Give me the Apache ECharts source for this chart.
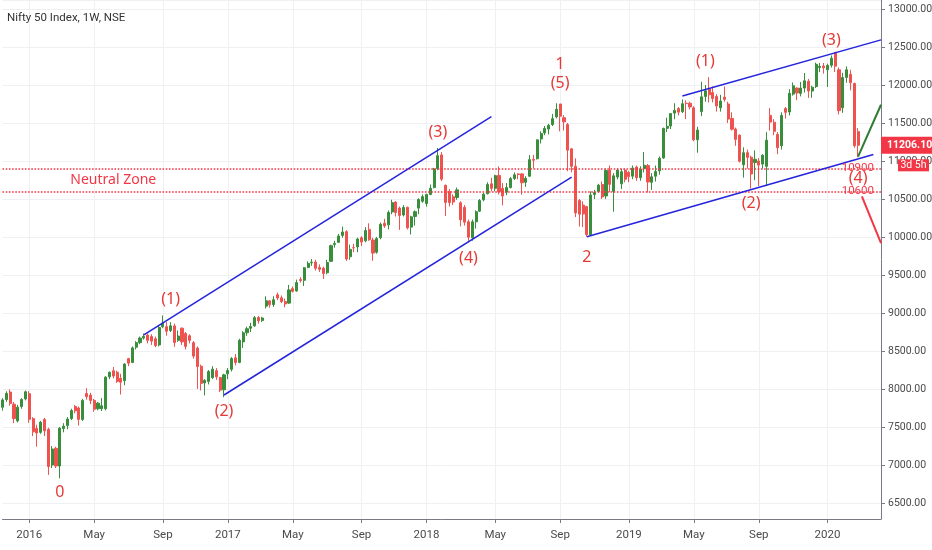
<!DOCTYPE html>
<html><head><meta charset="utf-8">
<script src="https://cdn.jsdelivr.net/npm/echarts@6/dist/echarts.min.js"></script>
<style>html,body{margin:0;padding:0;background:#fff}#c{width:932px;height:550px}</style>
</head><body><div id="c"></div>
<script>
// ---------- data ----------
const titleText = 'Nifty 50 Index, 1W, NSE';
const firstWeek = [2015, 10, 16];   // Monday 16 Nov 2015 (UTC, month 0-based)
const weekCount = 231;              // weeks on the axis (incl. empty weeks on the right)
const labelMonths = [0, 4, 8];      // Jan (year), May, Sep
const monthNames = ['Jan','Feb','Mar','Apr','May','Jun','Jul','Aug','Sep','Oct','Nov','Dec'];

// weekly candles: [open, close, low, high]
const ohlc = [
[7760,7856,7715,7880],[7860,7942,7830,7970],[7960,7810,7780,7995],[7800,7610,7551,7830],
[7580,7761,7560,7790],[7770,7861,7740,7880],[7870,7963,7850,7980],
// 2016
[7938,7601,7555,7972],[7610,7437,7380,7630],[7480,7422,7241,7530],[7430,7563,7410,7580],
[7600,7450,7380,7620],[7470,6980,6870,7490],[7000,7210,6960,7250],[7220,6987,6960,7240],
[6987,7485,6825,7500],[7480,7511,7430,7550],[7520,7604,7470,7630],[7610,7716,7590,7740],
[7770,7713,7680,7790],[7750,7600,7520,7770],[7600,7850,7580,7870],[7940,7899,7860,8010],
[7920,7849,7800,7950],[7850,7733,7700,7870],[7740,7814,7720,7830],[7740,7780,7710,7880],
[7740,8156,7720,8170],[8160,8220,8130,8230],[8240,8170,8140,8290],[8220,8100,8080,8240],
[8140,8089,7927,8200],[8110,8328,8050,8340],[8400,8340,8300,8410],[8350,8541,8340,8560],
[8550,8610,8520,8630],[8610,8670,8590,8690],[8670,8690,8650,8730],[8710,8640,8600,8730],
[8690,8630,8580,8720],[8660,8572,8550,8690],[8580,8809,8560,8840],[8820,8866,8800,8968],
[8820,8760,8700,8880],[8770,8831,8750,8880],[8830,8611,8555,8860],[8640,8697,8620,8770],
[8800,8620,8580,8810],[8730,8560,8520,8750],[8700,8640,8600,8720],[8610,8433,8400,8630],
[8540,8296,8002,8560],[8300,8074,7980,8320],[8080,8114,7916,8130],[8100,8230,8060,8250],
[8150,8261,8130,8300],[8240,8160,8120,8275],[8150,7985,7960,8160],[7990,8186,7893,8200],
// 2017
[8200,8243,8130,8275],[8260,8400,8230,8420],[8410,8349,8310,8460],[8350,8641,8340,8660],
[8620,8740,8540,8760],[8740,8793,8700,8820],[8800,8821,8750,8870],[8830,8939,8820,8960],
[8940,8897,8860,8960],[8900,8934,8880,8950],[9090,9160,9060,9220],[9160,9108,9070,9170],
[9110,9174,9080,9220],[9240,9198,9170,9270],[9200,9150,9130,9230],[9150,9119,9075,9190],
[9130,9304,9120,9370],[9320,9285,9270,9350],[9290,9400,9280,9440],[9440,9427,9400,9470],
[9430,9595,9355,9605],[9600,9653,9590,9680],[9660,9668,9620,9710],[9670,9588,9560,9700],
[9600,9575,9540,9640],[9590,9520,9448,9610],[9530,9665,9510,9700],[9680,9886,9670,9900],
[9900,9915,9860,9950],[9930,10014,9920,10040],[10020,10066,9990,10137],[10070,9710,9685,10090],
[9740,9837,9700,9900],[9860,9857,9800,9910],[9870,9974,9800,9990],[9990,9934,9880,10010],
[9950,10085,9930,10130],[10100,9964,9950,10180],[9960,9788,9687,9990],[9800,9979,9780,10000],
[9990,10167,9970,10190],[10180,10146,10120,10240],[10160,10323,10100,10350],[10330,10452,10300,10490],
[10460,10322,10270,10470],[10380,10283,10094,10400],[10290,10389,10270,10420],[10390,10121,10100,10400],
[10130,10265,10033,10280],[10270,10333,10150,10350],[10380,10493,10300,10510],[10470,10531,10450,10560],
// 2018
[10440,10559,10400,10570],[10560,10640,10550,10690],[10650,10894,10640,10910],[10900,11070,10880,11171],
[11080,10761,10736,11117],[10680,10455,10276,10690],[10600,10452,10400,10630],[10530,10460,10420,10560],
[10520,10620,10490,10650],[10450,10227,10140,10470],[10390,10195,10150,10420],[10200,9998,9951,10230],
[9990,10200,9951,10230],[10200,10332,10110,10350],[10340,10481,10330,10500],[10490,10564,10470,10580],
[10570,10692,10560,10720],[10700,10640,10600,10780],[10640,10807,10600,10820],[10810,10596,10560,10929],
[10640,10540,10417,10710],[10590,10650,10550,10710],[10650,10768,10640,10790],[10770,10818,10750,10850],
[10830,10822,10760,10840],[10830,10714,10557,10840],[10720,10772,10660,10800],[10800,11018,10790,11078],
[11020,11010,10900,11080],[11030,11278,11020,11283],[11290,11361,11230,11390],[11370,11429,11340,11460],
[11420,11470,11350,11490],[11480,11557,11460,11620],[11580,11680,11560,11760],[11750,11589,11390,11750],
[11570,11515,11400,11603],[11480,11143,10866,11500],[11160,10930,10850,11170],[10930,10316,10262,11035],
[10480,10300,10138,10500],[10420,10303,10130,10470],[10400,10030,10004,10410],[10030,10553,10020,10600],
[10560,10585,10500,10620],[10600,10682,10580,10700],[10690,10526,10500,10730],[10540,10876,10500,10900],
[10880,10693,10590,10940],[10600,10805,10333,10840],[10790,10880,10760,10900],[10700,10859,10630,10900],
[10880,10760,10720,10900],
// 2019
[10850,10795,10720,10870],[10800,10907,10760,10940],[10920,10780,10740,10940],[10780,10894,10740,10930],
[10900,10944,10850,11118],[10940,10724,10585,10960],[10720,10792,10620,10840],[10800,10863,10730,10940],
[10870,11035,10820,11060],[11040,11427,11030,11440],[11430,11457,11380,11570],[11460,11624,11420,11630],
[11630,11666,11550,11760],[11690,11643,11600,11710],[11650,11753,11630,11810],[11760,11755,11550,11800],
[11760,11712,11680,11780],[11700,11279,11260,11720],[11280,11407,11108,11450],[11650,11844,11590,12041],
[11850,11923,11780,12000],[11950,11871,11770,12103],[11900,11823,11770,11980],[11850,11724,11650,11880],
[11700,11789,11650,11870],[11840,11811,11780,11981],[11750,11552,11500,11780],[11560,11419,11400,11640],
[11420,11284,11200,11440],[11340,10997,10980,11350],[10950,11109,10782,11180],[11110,11048,10900,11150],
[11050,10829,10637,11070],[10980,11023,10746,11140],[11000,10946,10670,11040],[10960,11076,10900,11090],
[10930,11274,10670,11380],[11600,11512,11400,11695],[11510,11390,11340,11550],[11350,11175,11090,11380],
[11200,11600,11150,11640],[11690,11640,11560,11710],[11645,11891,11600,11945],[11880,11990,11860,12034],
[11960,11895,11800,11970],[11890,11960,11850,12040],[11960,12056,11900,12158],[12050,11921,11830,12080],
[11920,11971,11832,11990],[11980,12272,11960,12294],[12230,12246,12170,12290],[12250,12226,12150,12290],
// 2020
[12200,12257,11974,12280],[12260,12352,12230,12389],[12430,12248,12170,12430],[12200,11662,11614,12230],
[11700,12098,11633,12160],[12100,12200,12030,12246],[12140,12030,11930,12200],[12020,11201,11175,12030],
[11387,11206.10,11050,11433]
];
const lastPrice = 11206.10;
const countdownText = '3d 5h';

// horizontal levels (neutral zone bounds)
const zoneLevels = [10900, 10600];
const zoneLabel = [29, 10750, 'Neutral Zone'];       // [week index, price, text]

// trend lines: [fromWeek, fromPrice, toWeek, toPrice]
const channelLines = [
  [37, 8711, 128, 11584],
  [58, 7921, 149, 10789],
  [178, 11855, 230, 12594],
  [153, 10004, 228, 11085]
];
const projectionUp = [224, 11057, 230, 11740];
const projectionDown = [225, 10536, 230, 9920];

// Elliott wave labels: [week index, price, text]
const waveLabels = [
  [15, 6641, '0'], [44, 9184, '(1)'], [58, 7710, '(2)'], [114, 11372, '(3)'], [122, 9720, '(4)'],
  [146, 12276, '1'], [146, 12022, '(5)'], [153, 9733, '2'],
  [184, 12307, '(1)'], [196, 10443, '(2)'], [217, 12583, '(3)'], [224, 10772, '(4)']
];

// ---------- build ----------
const categories = [];
const t0 = Date.UTC(firstWeek[0], firstWeek[1], firstWeek[2]);
for (let i = 0; i < weekCount; i++) {
  categories.push(new Date(t0 + i * 7 * 86400000).toISOString().slice(0, 10));
}
const monthOf = s => +s.slice(5, 7) - 1;
const isLabel = i => i > 0 && monthOf(categories[i]) !== monthOf(categories[i - 1]) &&
                     labelMonths.indexOf(monthOf(categories[i])) >= 0;
const cat = i => categories[i];

const UIFONT = "Roboto,'Liberation Sans',sans-serif";
const RED = '#f23645', BLUE = '#2424dc', UP = '#388e3c', DOWN = '#ef5350', WAVE = '#e53935';

const lineData = [];
zoneLevels.forEach(v => lineData.push({
  yAxis: v,
  lineStyle: { color: RED, type: 'dotted', width: 1.6 },
  label: { show: true, position: 'insideEnd', distance: 7, formatter: String(v), color: RED,
    fontSize: 11.5, fontFamily: UIFONT }
}));
channelLines.forEach(t => lineData.push([
  { coord: [cat(t[0]), t[1]], lineStyle: { color: BLUE, width: 1.5, type: 'solid' } },
  { coord: [cat(t[2]), t[3]] }
]));
lineData.push([
  { coord: [cat(projectionUp[0]), projectionUp[1]], lineStyle: { color: '#2e7d32', width: 2, type: 'solid' } },
  { coord: [cat(projectionUp[2]), projectionUp[3]] }
]);
lineData.push([
  { coord: [cat(projectionDown[0]), projectionDown[1]], lineStyle: { color: RED, width: 2, type: 'solid' } },
  { coord: [cat(projectionDown[2]), projectionDown[3]] }
]);

const pointData = waveLabels.map(w => ({ name: w[2], coord: [cat(w[0]), w[1]] }));
pointData.push({ name: zoneLabel[2], coord: [cat(zoneLabel[0]), zoneLabel[1]],
  label: { fontSize: 14, color: RED } });

const chart = echarts.init(document.getElementById('c'));
chart.setOption({
  animation: false,
  backgroundColor: '#ffffff',
  title: { text: titleText, left: 2, top: 7,
    textStyle: { fontSize: 11.5, fontWeight: 'normal', color: '#333333', fontFamily: UIFONT } },
  grid: { left: 2.5, right: 51, top: 0, bottom: 31, containLabel: false, outerBoundsMode: 'none' },
  xAxis: {
    type: 'category', data: categories, boundaryGap: false,
    axisLine: { lineStyle: { color: '#787b86' } },
    axisTick: { show: true, interval: i => isLabel(i), length: 4, lineStyle: { color: '#787b86' } },
    axisLabel: { interval: i => isLabel(i), margin: 10, color: '#4a4a4a', fontSize: 11.5, fontFamily: UIFONT,
      formatter: v => { const m = monthOf(v); return m === 0 ? v.slice(0, 4) : monthNames[m]; } },
    splitLine: { show: true, interval: i => isLabel(i), lineStyle: { color: '#eef0f4' } }
  },
  yAxis: {
    type: 'value', position: 'right', min: 6289.5, max: 13118.4, splitNumber: 14, scale: true,
    axisLine: { show: true, lineStyle: { color: '#787b86' } },
    axisTick: { show: true, length: 4, lineStyle: { color: '#787b86' } },
    axisLabel: { showMinLabel: false, showMaxLabel: false, margin: 7, color: '#4a4a4a', fontSize: 10.5, fontFamily: UIFONT,
      formatter: v => (Math.abs(v % 500) < 1e-6 ? v.toFixed(2) : '') },
    splitLine: { lineStyle: { color: '#eef0f4' } }
  },
  series: [{
    type: 'candlestick', data: ohlc, barWidth: 2.6, clip: false,
    itemStyle: { color: UP, color0: DOWN, borderColor: UP, borderColor0: DOWN, borderWidth: 1 },
    markLine: { silent: true, symbol: ['none', 'none'], animation: false, label: { show: false }, data: lineData },
    markPoint: { silent: true, symbol: 'circle', symbolSize: 1, animation: false,
      itemStyle: { color: 'rgba(0,0,0,0)' },
      label: { show: true, position: 'inside', color: WAVE, fontSize: 16, fontFamily: "'Noto Sans',sans-serif",
        formatter: p => p.name },
      data: pointData }
  }]
});

// current-price tag on the price scale
const p = chart.convertToPixel({ seriesIndex: 0 }, [cat(ohlc.length - 1), lastPrice]);
const axisX = chart.convertToPixel({ xAxisIndex: 0 }, cat(weekCount - 1));
const py = p[1];
chart.setOption({
  graphic: [
    { type: 'rect', z: 100, shape: { x: axisX, y: py - 8.5, width: 932 - axisX, height: 17 }, style: { fill: RED } },
    { type: 'text', z: 101, x: axisX + 6, y: py, style: { text: lastPrice.toFixed(2), fill: '#ffffff',
        fontSize: 10.5, fontWeight: 'bold', fontFamily: UIFONT, verticalAlign: 'middle', align: 'left' } },
    { type: 'rect', z: 100, shape: { x: axisX + 17, y: py + 14, width: 31, height: 12 }, style: { fill: RED } },
    { type: 'text', z: 101, x: axisX + 32.5, y: py + 20, style: { text: countdownText, fill: '#ffffff',
        fontSize: 10.5, fontFamily: UIFONT, verticalAlign: 'middle', align: 'center' } }
  ]
});
</script>
</body></html>
